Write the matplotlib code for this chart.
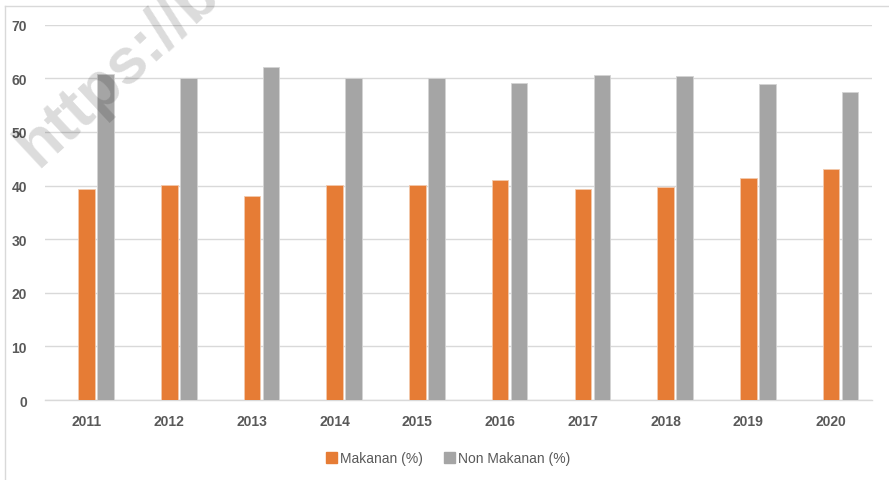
import matplotlib.pyplot as plt
import numpy as np
from matplotlib.lines import Line2D

tahun = ['2011', '2012', '2013', '2014', '2015', '2016', '2017', '2018', '2019', '2020']
makanan = [39.4, 40.1, 38.1, 40.1, 40.1, 41.0, 39.4, 39.8, 41.4, 43.1]
non_makanan = [60.8, 60.0, 62.1, 60.0, 60.0, 59.1, 60.7, 60.5, 58.9, 57.5]

warna = ['#E67C35', '#A5A5A5']
teks = '#595959'
huruf = ['Liberation Sans', 'DejaVu Sans']

fig = plt.figure(figsize=(8.89, 4.81), dpi=100)
ax = fig.add_axes([0.0508, 0.1663, 0.9305, 0.7803])

x = np.arange(len(tahun))
lebar = 0.2
ax.bar(x, makanan, lebar, color=warna[0], edgecolor='#f3c9ad', linewidth=0.6, zorder=3)
ax.bar(x + 0.23, non_makanan, lebar, color=warna[1], edgecolor='#d4d4d4', linewidth=0.6, zorder=3)

ax.set_xlim(-0.5, 9.5)
ax.set_ylim(0, 70)
ax.set_yticks(range(0, 71, 10))
ax.set_xticks(x)
ax.set_xticklabels(tahun)
ax.grid(axis='y', color='#d9d9d9', linewidth=1.0, zorder=0)
for s in ['top', 'right', 'left']:
    ax.spines[s].set_visible(False)
ax.spines['bottom'].set_color('#d9d9d9')
ax.spines['bottom'].set_linewidth(1.0)
ax.tick_params(axis='both', length=0, colors=teks, labelsize=10)
ax.tick_params(axis='x', pad=10)
ax.tick_params(axis='y', pad=13)
for lbl in ax.get_xticklabels() + ax.get_yticklabels():
    lbl.set_family(huruf)
    lbl.set_fontweight('bold')

# legenda
handles = [plt.Rectangle((0, 0), 1, 1, color=warna[0]),
           plt.Rectangle((0, 0), 1, 1, color=warna[1])]
fig.legend(handles, ['Makanan (%)', 'Non Makanan (%)'], loc='center',
           bbox_to_anchor=(0.504, 0.045), ncol=2, frameon=False,
           handlelength=0.8, handleheight=0.8, handletextpad=0.2,
           columnspacing=1.5, prop={'family': huruf, 'size': 10},
           labelcolor=teks)

# bingkai kiri dan atas
fig.add_artist(Line2D([4.5 / 889, 4.5 / 889], [0, 1 - 7 / 481], color='#d9d9d9', linewidth=1.0))
fig.add_artist(Line2D([4.5 / 889, 1], [1 - 7 / 481, 1 - 7 / 481], color='#d9d9d9', linewidth=1.0))

# watermark
fig.text(0.006, 0.63, 'https://b', rotation=43, fontsize=46, fontweight='bold',
         color='black', alpha=0.14, ha='left', va='bottom', family=huruf)

fig.savefig('out.png', dpi=100)
